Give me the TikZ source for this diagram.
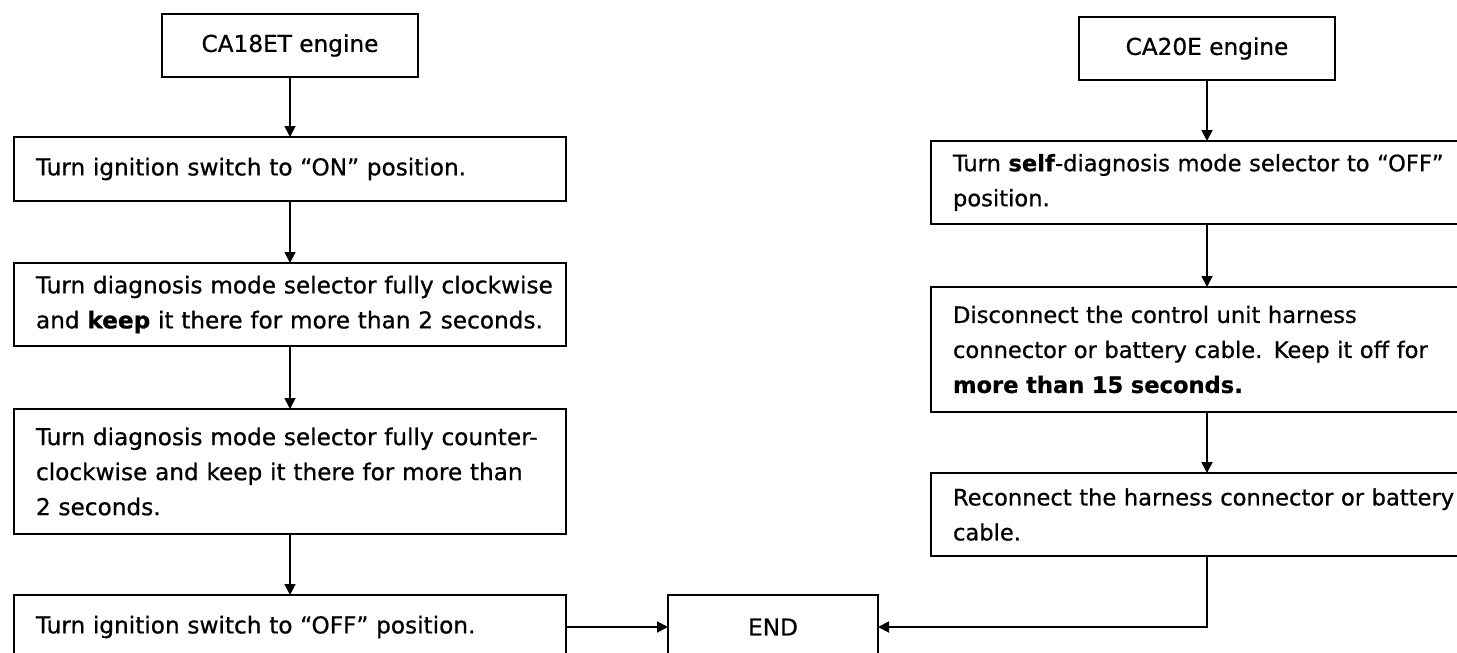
\documentclass[tikz,border=0pt]{standalone}
\usepackage{fontspec}
\setmainfont{DejaVu Sans}[FakeBold=0.7]
\usepackage{tikz}
\usetikzlibrary{shapes,arrows,arrows.meta,positioning}
\newcommand{\boxfont}{\fontsize{23.2}{35}\selectfont\hyphenpenalty=10000}
\newcommand{\rightfont}{\fontsize{22.6}{35}\selectfont\hyphenpenalty=10000}
\tikzstyle{engine} = [rectangle, draw=black, line width=2.4pt, outer sep=0pt, fill=white, text=black, align=center, font=\boxfont, minimum width=256pt, minimum height=63pt]
\tikzstyle{stepbox} = [rectangle, draw=black, line width=2.2pt, outer sep=0pt, fill=white, text=black, align=left, text width=508pt, inner xsep=22pt, inner ysep=4pt, font=\boxfont, minimum height=64pt]
\tikzstyle{rightcol} = [font=\rightfont]
\tikzstyle{twolines} = [minimum height=83pt]
\tikzstyle{threelines} = [minimum height=125pt]
\tikzstyle{endbox} = [rectangle, draw=black, line width=2.4pt, outer sep=0pt, fill=white, text=black, align=center, font=\boxfont, minimum width=210pt, minimum height=64pt]
\tikzstyle{tedge}  = [draw, line width=1.8pt, >={Triangle[width=11pt,length=11pt]}, ->]
\tikzstyle{nedge}  = [draw, line width=1.8pt]

\begin{document}
\begin{tikzpicture}[auto, x=1pt, y=-1pt]
\useasboundingbox (0,0) rectangle (1457,653);
%CA18ET=========================

\node[engine] (ca18) at (290,45.5) {CA18ET engine};
\node[stepbox, below=60pt of ca18] (on) {Turn ignition switch to “ON” position.};
\node[stepbox, twolines, below=62pt of on] (cw) {\mbox{Turn diagnosis mode selector fully clockwise}\\\mbox{and \textbf{keep} it there for more than 2 seconds.}};
\node[stepbox, threelines, below=63pt of cw] (ccw) {Turn diagnosis mode selector fully counter-\\clockwise and keep it there for more than\\2 seconds.};
\node[stepbox, below=61pt of ccw] (off) {Turn ignition switch to “OFF” position.};

%CA20E=========================

\node[engine] (ca20) at (1207,48.5) {CA20E engine};
\node[stepbox, rightcol, twolines, below=61pt of ca20] (sdm) {\mbox{Turn \textbf{self}-diagnosis mode selector to “OFF”}\\position.};
\node[stepbox, rightcol, threelines, below=63pt of sdm] (disc) {Disconnect the control unit harness\\connector or battery cable. Keep it off for\\\textbf{more than 15 seconds.}};
\node[stepbox, rightcol, twolines, below=61pt of disc] (reco) {\mbox{Reconnect the harness connector or battery}\\cable.};

\node[endbox, right=102pt of off] (end) {END};

% edges
\path[tedge] (ca18) edge (on);
\path[tedge] (on) edge (cw);
\path[tedge] (cw) edge (ccw);
\path[tedge] (ccw) edge (off);
\path[tedge] (off) edge (end);

\path[tedge] (ca20) edge (sdm);
\path[tedge] (sdm) edge (disc);
\path[tedge] (disc) edge (reco);
\path[tedge] (reco) |- (end);

\end{tikzpicture}
\end{document}
